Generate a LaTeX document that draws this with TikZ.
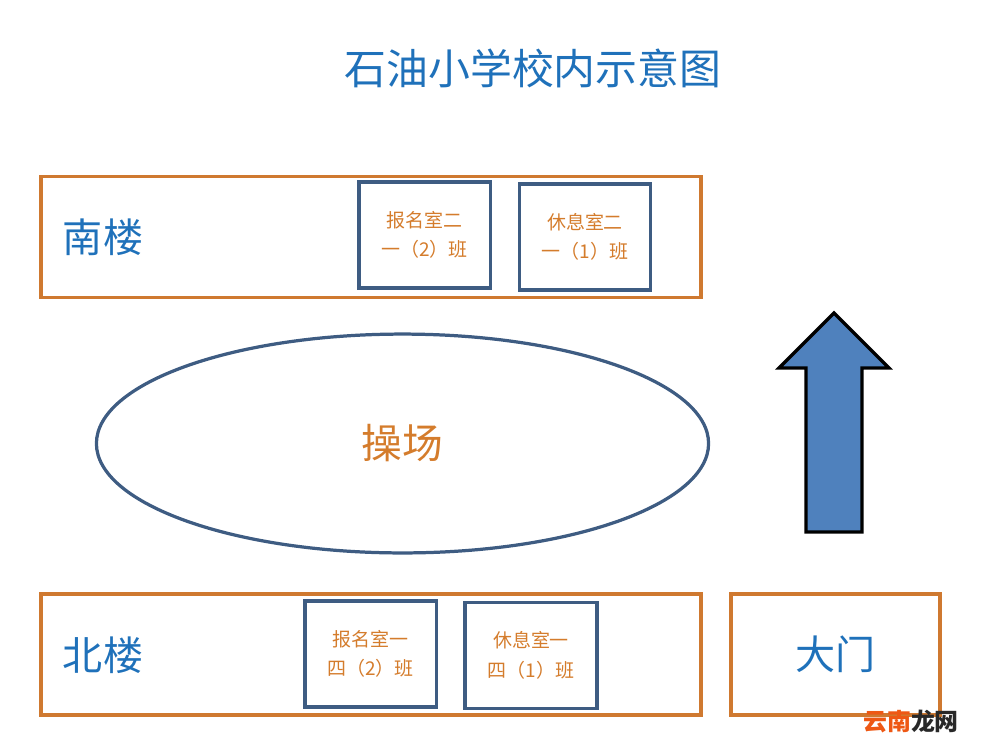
\documentclass[tikz,border=0pt]{standalone}
\usepackage{fontspec}
\setmainfont{Noto Sans CJK SC}
\usetikzlibrary{shapes.geometric}

\definecolor{titleblue}{RGB}{31,113,186}
\definecolor{bldgorange}{RGB}{207,121,48}
\definecolor{textorange}{RGB}{212,124,44}
\definecolor{roomblue}{RGB}{62,92,130}
\definecolor{arrowfill}{RGB}{79,129,189}
\definecolor{markred}{RGB}{238,88,20}
\definecolor{markgrey}{RGB}{40,40,40}

\begin{document}
\begin{tikzpicture}[
x=0.025cm, y=-0.025cm,
building/.style={draw=bldgorange, line width=2.3pt, minimum width=16.5cm, minimum height=3.04cm},
room/.style={draw=roomblue, line width=2.3pt, minimum width=3.28cm, minimum height=2.65cm, align=center,
  text=textorange, font=\fontsize{13.5}{21}\selectfont},
bigtext/.style={text=titleblue, font=\fontsize{28.5}{30}\selectfont}
]
\useasboundingbox (0,0) rectangle (998,751);

% -------- Title --------
\node[text=titleblue, font=\fontsize{29.8}{32}\selectfont] (title) at (533,68) {石油小学校内示意图};

% -------- South building --------
\node[building] (south) at (371,237) {};
\node[bigtext] (southlbl) at (103,237) {南楼};
\node[room] (reg2) at (424.5,235) {报名室二\\一（2）班};
\node[room] (rest2) at (585,237) {休息室二\\一（1）班};

% -------- Playground --------
\node[ellipse, draw=roomblue, line width=2.3pt, minimum width=15.3cm, minimum height=5.47cm,
  text=textorange, font=\fontsize{29}{30}\selectfont] (field) at (402.5,443.5) {操场};

% -------- Arrow --------
\draw[fill=arrowfill, line width=2.3pt, line join=miter]
  (834,313) -- (889,368) -- (862,368) -- (862,532) -- (806,532) -- (806,368) -- (779,368) -- cycle;

% -------- North building --------
\node[building, minimum height=3.02cm] (north) at (371,654.5) {};
\node[bigtext] (northlbl) at (103,655) {北楼};
\node[room] (reg1) at (370.5,654) {报名室一\\四（2）班};
\node[room, minimum width=3.3cm] (rest1) at (531,655.5) {休息室一\\四（1）班};

% -------- Gate --------
\node[building, minimum width=5.22cm, minimum height=3.02cm, bigtext] (gate) at (835.5,654.5) {大门};

% -------- Mark --------
\node[font=\fontsize{17}{18}\selectfont\bfseries, inner sep=0pt] (mark) at (911,721)
  {\textcolor{markred}{云南}\textcolor{markgrey}{龙网}};

\end{tikzpicture}
\end{document}
